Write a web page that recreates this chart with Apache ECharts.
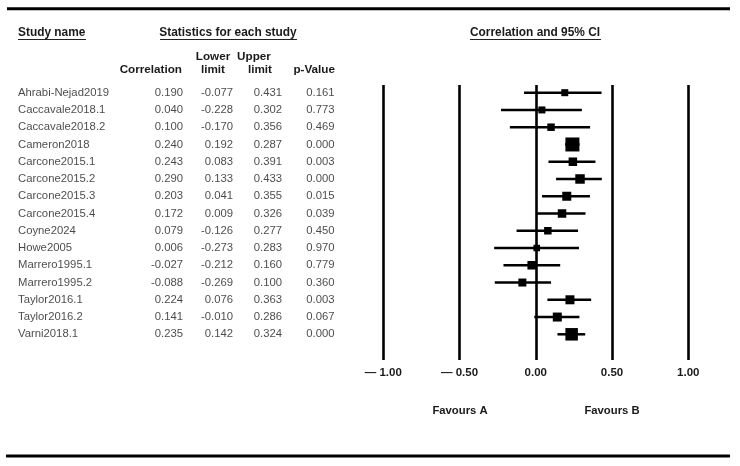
<!DOCTYPE html>
<html>
<head>
<meta charset="utf-8">
<script src="https://cdn.jsdelivr.net/npm/echarts@6/dist/echarts.min.js"></script>
<style>
html,body{margin:0;padding:0;background:#fff;}
#chart{width:740px;height:466px;}
</style>
</head>
<body>
<div id="chart"></div>
<script>
// ---- data ----
var studies = ['Ahrabi-Nejad2019','Caccavale2018.1','Caccavale2018.2','Cameron2018','Carcone2015.1','Carcone2015.2','Carcone2015.3','Carcone2015.4','Coyne2024','Howe2005','Marrero1995.1','Marrero1995.2','Taylor2016.1','Taylor2016.2','Varni2018.1'];
var correlation = [0.190,0.040,0.100,0.240,0.243,0.290,0.203,0.172,0.079,0.006,-0.027,-0.088,0.224,0.141,0.235];
var lowerLimit  = [-0.077,-0.228,-0.170,0.192,0.083,0.133,0.041,0.009,-0.126,-0.273,-0.212,-0.269,0.076,-0.010,0.142];
var upperLimit  = [0.431,0.302,0.356,0.287,0.391,0.433,0.355,0.326,0.277,0.283,0.160,0.100,0.363,0.286,0.324];
var pValue      = [0.161,0.773,0.469,0.000,0.003,0.000,0.015,0.039,0.450,0.970,0.779,0.360,0.003,0.067,0.000];
var xTickValues = [-1, -0.5, 0, 0.5, 1];
var xTickLabels = ['\u2014 1.00', '\u2014 0.50', '0.00', '0.50', '1.00'];
// marker (weight) sizes
var markerSize  = [7,7,7.5,14,8.5,9.5,9,8.5,7.5,6.5,8.5,8,9,9,12.5];

// ---- layout helpers ----
var FONT = 'Liberation Sans, Arial, sans-serif';
var TXT = '#1a1a1a';
var yMin = -0.446, yMax = 15.489;

function textSeries(x, texts, align, bold) {
  return {
    type: 'scatter', xAxisIndex: 1, yAxisIndex: 1,
    symbolSize: 0, silent: true,
    data: texts.map(function (t, i) { return [x, i, t]; }),
    label: {
      show: true, position: 'inside', align: align, verticalAlign: 'middle',
      formatter: function (p) { return p.value[2]; },
      fontFamily: FONT, fontSize: 11.3, color: TXT, fontWeight: bold ? 'bold' : 'normal'
    }
  };
}
function fmt(a) { return a.map(function (v) { return v.toFixed(3); }); }

var chart = echarts.init(document.getElementById('chart'), null, {renderer: 'canvas'});

var option = {
  backgroundColor: '#fff',
  animation: false,
  grid: [
    {left: 383.3, right: 51.7, top: 85, bottom: 106},
    {left: 0, width: 383.3, top: 85, bottom: 106}
  ],
  xAxis: [
    {
      type: 'value', gridIndex: 0, min: -1, max: 1, interval: 0.5,
      axisLine: {show: false}, axisTick: {show: false},
      splitLine: {show: true, showMinLine: true, showMaxLine: true, lineStyle: {color: '#000', width: 2.6}},
      axisLabel: {
        margin: 6.5, fontFamily: FONT, fontSize: 11.5, fontWeight: 'bold', color: TXT,
        formatter: function (v) {
          var k = xTickValues.indexOf(Math.round(v * 100) / 100);
          return k >= 0 ? xTickLabels[k] : '';
        }
      }
    },
    {type: 'value', gridIndex: 1, min: 0, max: 383.3, show: false}
  ],
  yAxis: [
    {type: 'value', gridIndex: 0, min: yMin, max: yMax, inverse: true, show: false},
    {type: 'value', gridIndex: 1, min: yMin, max: yMax, inverse: true, show: false}
  ],
  series: [
    {
      type: 'custom', xAxisIndex: 0, yAxisIndex: 0, silent: true,
      data: studies.map(function (s, i) { return [lowerLimit[i], upperLimit[i], correlation[i], i, markerSize[i]]; }),
      encode: {x: [0, 1, 2], y: 3},
      renderItem: function (params, api) {
        var lo = api.coord([api.value(0), api.value(3)]);
        var hi = api.coord([api.value(1), api.value(3)]);
        var c = api.coord([api.value(2), api.value(3)]);
        var s = api.value(4);
        return {
          type: 'group',
          children: [
            {type: 'line', shape: {x1: lo[0], y1: lo[1], x2: hi[0], y2: hi[1]}, style: {stroke: '#000', lineWidth: 2.5}},
            {type: 'rect', shape: {x: c[0] - s / 2, y: c[1] - s / 2, width: s, height: s}, style: {fill: '#000'}}
          ]
        };
      }
    },
    textSeries(18, studies, 'left', false),
    textSeries(183, fmt(correlation), 'right', false),
    textSeries(233, fmt(lowerLimit), 'right', false),
    textSeries(282, fmt(upperLimit), 'right', false),
    textSeries(334.5, fmt(pValue), 'right', false)
  ],
  graphic: [
    {type: 'line', shape: {x1: 7, y1: 8.7, x2: 730, y2: 8.7}, style: {stroke: '#000', lineWidth: 3}},
    {type: 'line', shape: {x1: 6, y1: 456, x2: 730, y2: 456}, style: {stroke: '#000', lineWidth: 3}},
    // section headers
    {type: 'text', x: 18, y: 33, style: {text: 'Study name', font: 'bold 11.9px ' + FONT, fill: TXT, verticalAlign: 'middle', textAlign: 'left'}},
    {type: 'line', shape: {x1: 18, y1: 39.5, x2: 86, y2: 39.5}, style: {stroke: '#222', lineWidth: 1}},
    {type: 'text', x: 228, y: 33, style: {text: 'Statistics for each study', font: 'bold 11.9px ' + FONT, fill: TXT, verticalAlign: 'middle', textAlign: 'center'}},
    {type: 'line', shape: {x1: 160, y1: 39.5, x2: 297, y2: 39.5}, style: {stroke: '#222', lineWidth: 1}},
    {type: 'text', x: 535, y: 33, style: {text: 'Correlation and 95% CI', font: 'bold 11.9px ' + FONT, fill: TXT, verticalAlign: 'middle', textAlign: 'center'}},
    {type: 'line', shape: {x1: 470, y1: 39.5, x2: 601, y2: 39.5}, style: {stroke: '#222', lineWidth: 1}},
    // column headers
    {type: 'text', x: 182, y: 70, style: {text: 'Correlation', font: 'bold 11.7px ' + FONT, fill: TXT, verticalAlign: 'middle', textAlign: 'right'}},
    {type: 'text', x: 213, y: 57, style: {text: 'Lower', font: 'bold 11.7px ' + FONT, fill: TXT, verticalAlign: 'middle', textAlign: 'center'}},
    {type: 'text', x: 213, y: 70, style: {text: 'limit', font: 'bold 11.7px ' + FONT, fill: TXT, verticalAlign: 'middle', textAlign: 'center'}},
    {type: 'text', x: 254, y: 57, style: {text: 'Upper', font: 'bold 11.7px ' + FONT, fill: TXT, verticalAlign: 'middle', textAlign: 'center'}},
    {type: 'text', x: 260, y: 70, style: {text: 'limit', font: 'bold 11.7px ' + FONT, fill: TXT, verticalAlign: 'middle', textAlign: 'center'}},
    {type: 'text', x: 335, y: 70, style: {text: 'p-Value', font: 'bold 11.7px ' + FONT, fill: TXT, verticalAlign: 'middle', textAlign: 'right'}},
    // favours labels
    {type: 'text', x: 460, y: 411, style: {text: 'Favours A', font: 'bold 11.3px ' + FONT, fill: TXT, verticalAlign: 'middle', textAlign: 'center'}},
    {type: 'text', x: 612, y: 411, style: {text: 'Favours B', font: 'bold 11.3px ' + FONT, fill: TXT, verticalAlign: 'middle', textAlign: 'center'}}
  ]
};
chart.setOption(option);
</script>
</body>
</html>
